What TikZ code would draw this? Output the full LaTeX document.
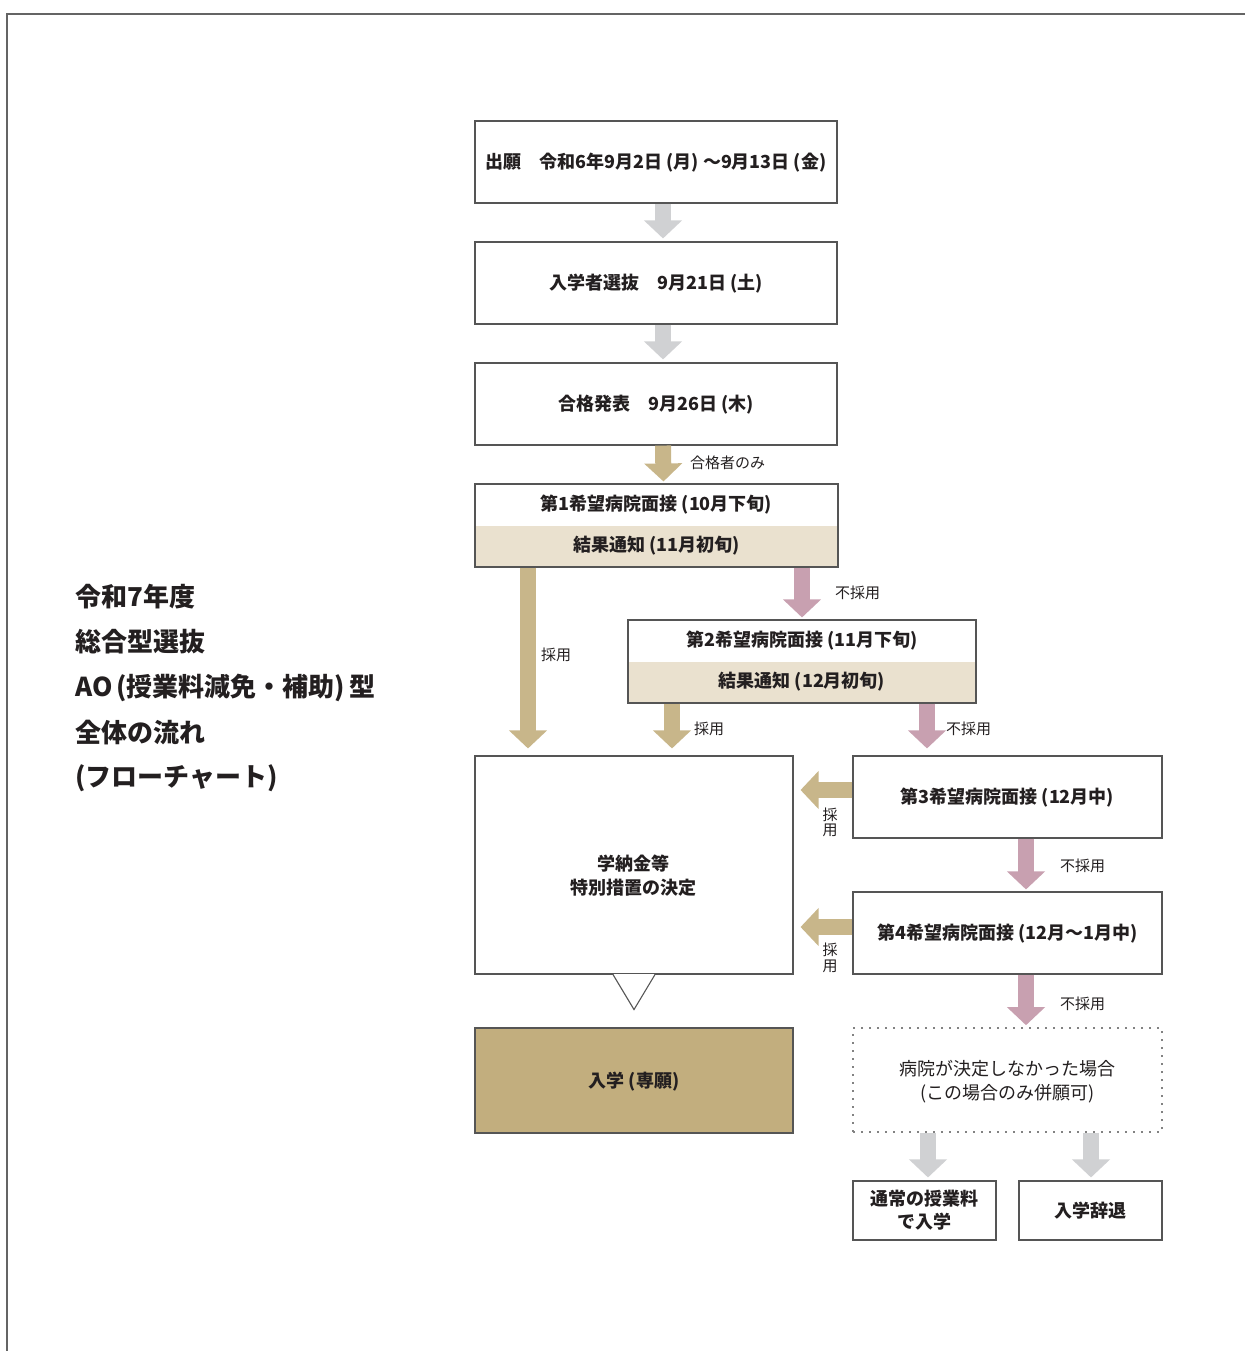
\documentclass[tikz,border=0pt]{standalone}
\usepackage{fontspec}
\setmainfont{Noto Sans CJK JP}
\usetikzlibrary{calc,arrows.meta}
\definecolor{tanA}{RGB}{200,182,138}
\definecolor{pinkA}{RGB}{200,160,176}
\definecolor{grayA}{RGB}{208,209,211}
\definecolor{lt}{RGB}{234,225,207}
\definecolor{entry}{RGB}{194,174,126}
\definecolor{boxc}{RGB}{85,85,85}
\definecolor{txt}{RGB}{35,31,32}
\definecolor{framec}{RGB}{100,100,100}
\definecolor{dotc}{RGB}{130,130,130}
\newcommand\LP{\kern4pt(}
\newcommand\RP{)\kern4pt}
\begin{document}
\begin{tikzpicture}[x=1pt,y=-1pt,
  box/.style={draw=boxc, line width=1.1pt, fill=white, inner sep=0pt, minimum height=82pt, text=txt, font=\bfseries\fontsize{18}{24}\selectfont, align=center, text height=15pt, text depth=2pt},
  mbox/.style={draw=boxc, line width=1.1pt, fill=white, inner sep=0pt, text=txt, font=\bfseries\fontsize{18}{23}\selectfont, align=center},
  btext/.style={inner sep=0pt, text=txt, font=\bfseries\fontsize{18}{24}\selectfont, align=center, text height=15pt, text depth=2pt},
  mtext/.style={inner sep=0pt, text=txt, font=\bfseries\fontsize{18}{24}\selectfont, align=center},
  lbl/.style={inner sep=0pt, text=txt, font=\fontsize{15}{15}\selectfont, anchor=west, align=center},
  vlbl/.style={inner sep=0pt, text=txt, font=\fontsize{15}{15.5}\selectfont, align=center},
  ttl/.style={inner sep=0pt, text=txt, font=\bfseries\fontsize{26}{30}\selectfont, anchor=west},
  blk/.style={line width=16pt, -{Triangle[width=37pt,length=18pt]}},
  twopart/.style={path picture={\fill[lt] (path picture bounding box.west) rectangle (path picture bounding box.south east);}}
]
\useasboundingbox (0,0) rectangle (1245,1351);
\draw[framec, line width=2pt] (6.5,1351) -- (6.5,14.5) -- (1245,14.5);

% title
\node[ttl] (t1) at (75,597) {令和7年度};
\node[ttl] (t2) at (75,642) {総合型選抜};
\node[ttl] (t3) at (75,688) {AO\LP 授業料減免・補助\RP 型};
\node[ttl] (t4) at (75,733) {全体の流れ};
\node[ttl] (t5) at (75,778) {(フローチャート)};

% boxes
\node[box, minimum width=362pt] (b1) at (656,162) {出願　令和6年9月2日\LP 月\RP〜9月13日\LP 金)};
\node[box, minimum width=362pt] (b2) at (656,283) {入学者選抜　9月21日\LP 土)};
\node[box, minimum width=362pt] (b3) at (656,404) {合格発表　9月26日\LP 木)};

\node[box, twopart, minimum width=363pt, minimum height=83pt] (b4) at (656.5,525.5) {};
\node[btext] (b4a) at ($(b4.north)+(0,21)$) {第1希望病院面接\LP 10月下旬)};
\node[btext] (b4b) at ($(b4.north)+(0,62)$) {結果通知\LP 11月初旬)};

\node[box, twopart, minimum width=348pt, minimum height=83pt] (b5) at (802,661.5) {};
\node[btext] (b5a) at ($(b5.north)+(0,21)$) {第2希望病院面接\LP 11月下旬)};
\node[btext] (b5b) at ($(b5.north)+(0,62)$) {結果通知\LP 12月初旬)};

\node[box, minimum width=318pt, minimum height=218pt] (dec) at (634,865) {};
\draw[boxc, line width=1.1pt, fill=white] ($(dec.south)+(-21,0)$) -- ($(dec.south)+(0,35)$) -- ($(dec.south)+(21,0)$);
\draw[white, line width=1.6pt] ($(dec.south)+(-19.8,0)$) -- ($(dec.south)+(19.8,0)$);
\node[mtext] (dect) at (633,876) {学納金等\\特別措置の決定};

\node[box, fill=entry, minimum width=318pt, minimum height=105pt] (ent) at (634,1080.5) {入学\LP 専願)};

\node[box, minimum width=309pt] (b6) at (1007.5,797) {第3希望病院面接\LP 12月中)};
\node[box, minimum width=309pt] (b7) at (1007.5,933) {第4希望病院面接\LP 12月〜1月中)};

\node[box, draw=dotc, line width=1.6pt, dash pattern=on 1.6pt off 6.4pt, minimum width=309pt, minimum height=104pt] (dot) at (1007.5,1080) {};
\node[inner sep=0pt, text=txt, font=\fontsize{18}{24}\selectfont, align=center] (dott) at (1007.5,1082) {病院が決定しなかった場合\\(この場合のみ併願可)};

\node[mbox, minimum width=143pt, minimum height=59pt] (bl) at (924.5,1210.5) {通常の授業料\\で入学};
\node[box, minimum width=143pt, minimum height=59pt] (br) at (1090.5,1210.5) {入学辞退};

% arrows
\draw[blk, grayA] ($(b1.south)+(7,0)$) -- ($(b2.north)+(7,-3)$);
\draw[blk, grayA] ($(b2.south)+(7,0)$) -- ($(b3.north)+(7,-3)$);
\draw[blk, tanA] ($(b3.south)+(7,0)$) -- ($(b4.north)+(7,-2)$);
\node[lbl] (l1) at (690,463) {合格者のみ};

\draw[blk, tanA] ($(b4.south)+(-128.5,0)$) -- ($(dec.north)+(-106,-7)$);
\node[lbl] (l2) at (541,655) {採用};
\draw[blk, pinkA] ($(b4.south)+(145.5,0)$) -- ($(b5.north)+(0,-2)$);
\node[lbl] (l3) at (835,593) {不採用};

\draw[blk, tanA] ($(b5.south)+(-130,0)$) -- ($(dec.north)+(38,-7)$);
\node[lbl] (l4) at (694,729) {採用};
\draw[blk, pinkA] ($(b5.south)+(125,0)$) -- ($(b6.north)+(-80.5,-7)$);
\node[lbl] (l5) at (946,729) {不採用};

\draw[blk, tanA] ($(b6.west)+(0,-7)$) -- ($(dec.east |- b6.west)+(7,-7)$);
\node[vlbl] (l6) at (830,822.5) {採\\用};
\draw[blk, pinkA] ($(b6.south)+(18.5,0)$) -- ($(b7.north)+(18.5,-2)$);
\node[lbl] (l7) at (1060,866) {不採用};

\draw[blk, tanA] ($(b7.west)+(0,-6)$) -- ($(dec.east |- b7.west)+(7,-6)$);
\node[vlbl] (l8) at (830,958) {採\\用};
\draw[blk, pinkA] ($(b7.south)+(18.5,0)$) -- ($(dot.north)+(18.5,-2)$);
\node[lbl] (l9) at (1060,1004) {不採用};

\draw[blk, grayA] ($(dot.south)+(-79.5,0)$) -- ($(bl.north)+(3.5,-3)$);
\draw[blk, grayA] ($(dot.south)+(83.5,0)$) -- ($(br.north)+(0.5,-3)$);
\end{tikzpicture}
\end{document}
